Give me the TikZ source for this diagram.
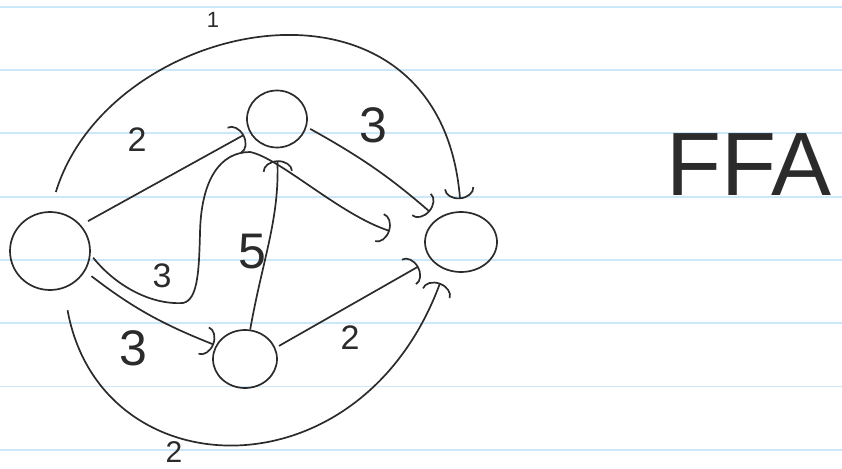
\documentclass[tikz,border=0pt]{standalone}
\usepackage{fontspec}
\setmainfont{Liberation Sans}
\usetikzlibrary{arrows.meta,shapes.geometric}
\definecolor{pen}{HTML}{2B2B2B}
\definecolor{paperline}{HTML}{CCE8F8}

\begin{document}
\begin{tikzpicture}[x=1pt,y=-1pt,
    vertex/.style={ellipse,draw=pen,line width=1.7pt,inner sep=0pt},
    edge/.style={draw=pen,line width=1.7pt,-{Arc Barb[length=11pt,width=30pt]}},
    weight/.style={text=pen,inner sep=0pt,font=\fontsize{34}{34}\selectfont},
    bigweight/.style={weight,font=\fontsize{50}{50}\selectfont}]
  \useasboundingbox (0,0) rectangle (842,468);
  % ruled paper
  \foreach \y in {6.7,70.0,...,450}
    \draw[paperline,line width=1.8pt] (0,\y) -- (842,\y);

  \node[vertex,minimum width=80pt,minimum height=78pt] (s) at (50,251) {};
  \node[vertex,minimum width=60pt,minimum height=57pt] (a) at (277,119) {};
  \node[vertex,minimum width=64pt,minimum height=58pt] (b) at (245,359) {};
  \node[vertex,minimum width=72pt,minimum height=60pt] (t) at (461,242) {};

  \draw[edge,shorten <=8pt,shorten >=6pt] (s.40) -- (a.205);
  \draw[edge,shorten <=8pt,shorten >=2pt] (s.-30) to[bend right=8] (b.155);
  \draw[edge,shorten <=20pt,shorten >=12pt] (s.north)
    .. controls (110,15) and (440,-50) .. (t.north);
  \draw[edge,shorten <=22pt,shorten >=14pt] (s.-70)
    .. controls (100,490) and (360,500) .. (t.-120);
  \draw[edge,shorten <=4pt,shorten >=36pt] (s.-5)
    .. controls (115,285) and (150,305) .. (183,303)
    .. controls (198,300) and (199,270) .. (200,233)
    .. controls (201,180) and (220,152) .. (250,152)
    .. controls (280,158) and (340,215) .. (t.west);
  \draw[edge,shorten <=4pt,shorten >=10pt] (a.-15) to[bend left=6] (t.135);
  \draw[edge,shorten <=4pt,shorten >=14pt] (b.20) -- (t.-150);
  \draw[edge,shorten >=12pt] (b.80) to[out=80,in=-88] (a.-90);

  \node[weight,font=\fontsize{22}{22}\selectfont] (w1) at (213,20) {1};
  \node[weight] (w2) at (137,140) {2};
  \node[weight] (w3) at (162,276) {3};
  \node[bigweight] (w4) at (133,348) {3};
  \node[bigweight] (w5) at (252,252) {5};
  \node[bigweight] (w6) at (373,125) {3};
  \node[weight] (w7) at (350,338) {2};
  \node[weight,font=\fontsize{30}{30}\selectfont] (w8) at (174,452) {2};

  \node[text=pen,anchor=west,inner sep=0pt,font=\fontsize{90}{90}\selectfont]
    (ffa) at (666,165) {FFA};
\end{tikzpicture}
\end{document}
